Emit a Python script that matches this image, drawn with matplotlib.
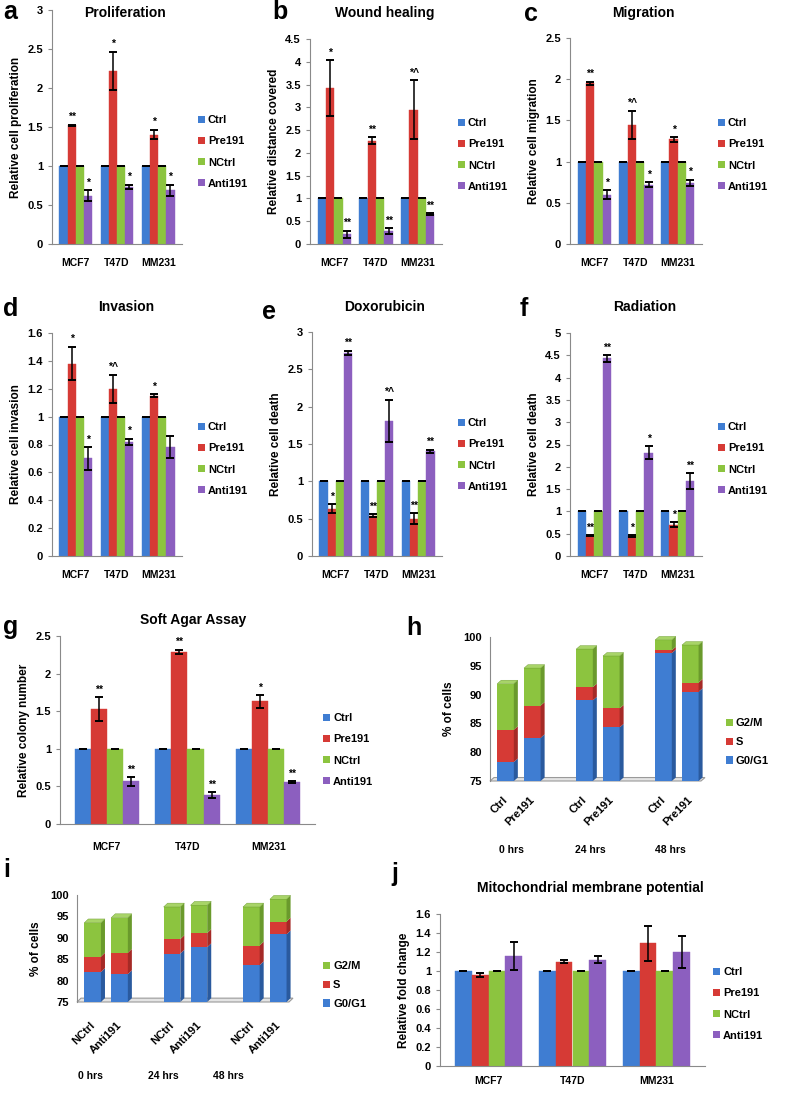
import numpy as np
import matplotlib
matplotlib.use('Agg')
import matplotlib.pyplot as plt
from matplotlib.patches import Patch, Polygon

plt.rcParams['font.family'] = ['Liberation Sans', 'DejaVu Sans']
plt.rcParams['font.weight'] = 'bold'
plt.rcParams['axes.labelweight'] = 'bold'

# ---- data ----
cells = ['MCF7', 'T47D', 'MM231']
groups = ['Ctrl', 'Pre191', 'NCtrl', 'Anti191']
ctrl = [1, 1, 1]
nctrl = [1, 1, 1]

prolif_pre = [1.52, 2.22, 1.40]
prolif_pre_err = [0.01, 0.24, 0.06]
prolif_anti = [0.62, 0.73, 0.69]
prolif_anti_err = [0.07, 0.03, 0.07]
prolif_pre_star = ['**', '*', '*']
prolif_anti_star = ['*', '*', '*']

wound_pre = [3.43, 2.27, 2.95]
wound_pre_err = [0.61, 0.08, 0.65]
wound_anti = [0.21, 0.29, 0.65]
wound_anti_err = [0.08, 0.06, 0.02]
wound_pre_star = ['*', '**', '*^']
wound_anti_star = ['**', '**', '**']

migr_pre = [1.95, 1.45, 1.27]
migr_pre_err = [0.02, 0.17, 0.03]
migr_anti = [0.60, 0.72, 0.74]
migr_anti_err = [0.05, 0.03, 0.04]
migr_pre_star = ['**', '*^', '*']
migr_anti_star = ['*', '*', '*']

inv_pre = [1.38, 1.20, 1.15]
inv_pre_err = [0.12, 0.10, 0.01]
inv_anti = [0.70, 0.82, 0.78]
inv_anti_err = [0.08, 0.02, 0.08]
inv_pre_star = ['*', '*^', '*']
inv_anti_star = ['*', '*', '']

doxo_pre = [0.63, 0.54, 0.50]
doxo_pre_err = [0.06, 0.02, 0.07]
doxo_anti = [2.72, 1.81, 1.40]
doxo_anti_err = [0.03, 0.28, 0.02]
doxo_pre_star = ['*', '**', '**']
doxo_anti_star = ['**', '*^', '**']

rad_pre = [0.45, 0.45, 0.70]
rad_pre_err = [0.01, 0.02, 0.06]
rad_anti = [4.43, 2.32, 1.68]
rad_anti_err = [0.07, 0.14, 0.17]
rad_pre_star = ['**', '*', '*']
rad_anti_star = ['**', '*', '**']

agar_pre = [1.53, 2.29, 1.63]
agar_pre_err = [0.16, 0.03, 0.09]
agar_anti = [0.57, 0.39, 0.56]
agar_anti_err = [0.06, 0.04, 0.01]
agar_pre_star = ['**', '**', '*']
agar_anti_star = ['**', '**', '**']

mito_pre = [0.96, 1.10, 1.29]
mito_pre_err = [0.02, 0.02, 0.18]
mito_anti = [1.16, 1.12, 1.20]
mito_anti_err = [0.15, 0.04, 0.17]

phases = ['G2/M', 'S', 'G0/G1']
h_labels = ['Ctrl', 'Pre191'] * 3
h_g0 = [78.3, 82.5, 89.0, 84.3, 97.2, 90.5]
h_s = [5.6, 5.6, 2.3, 3.3, 0.5, 1.6]
h_g2 = [8.0, 6.5, 6.6, 9.1, 1.8, 6.5]
i_labels = ['NCtrl', 'Anti191'] * 3
i_g0 = [82.0, 81.5, 86.3, 87.8, 83.6, 90.8]
i_s = [3.6, 5.0, 3.4, 3.3, 4.6, 3.0]
i_g2 = [7.9, 8.2, 7.5, 6.5, 9.0, 5.2]
times = ['0 hrs', '24 hrs', '48 hrs']

colors = ['#3f7dd2', '#d63a35', '#8cc43f', '#8c5fbf']
side_cols = ['#2a5a9e', '#a52a26', '#6a9a2c']
zero = [0, 0, 0]

W, H = 785, 1095
fig = plt.figure(figsize=(7.85, 10.95), dpi=100)


def px_axes(l, t, r, b):
    return fig.add_axes([l / W, 1 - b / H, (r - l) / W, (b - t) / H])


def style(ax):
    for s in ['top', 'right']:
        ax.spines[s].set_visible(False)
    for s in ['left', 'bottom']:
        ax.spines[s].set_color('#8a8a8a')
    ax.tick_params(axis='y', colors='black', length=3, labelsize=8)
    ax.tick_params(axis='y', color='#8a8a8a')


def legend(ax, labels, cols, lx, ly, spacing=1.0):
    hs = [Patch(facecolor=c) for c in cols]
    ax.legend(hs, labels, loc='center left', bbox_to_anchor=(lx / W, 1 - ly / H),
              bbox_transform=fig.transFigure, frameon=False, handlelength=0.6,
              handleheight=0.6, handletextpad=0.3, labelspacing=spacing,
              fontsize=8, borderaxespad=0, borderpad=0)


def grouped(ax, pre, pre_err, anti, anti_err, pre_star, anti_star,
            ymax, step, ylabel, lx, ly, pad=10):
    x = np.arange(3)
    w = 0.2
    vals = [ctrl, pre, nctrl, anti]
    errs = [zero, pre_err, zero, anti_err]
    for k in range(4):
        ax.bar(x + (k - 1.5) * w, vals[k], w, color=colors[k],
               edgecolor=colors[k], linewidth=0.3,
               yerr=errs[k], capsize=3,
               error_kw=dict(ecolor='black', elinewidth=1.1, capthick=1.4))
    for k, st in [(1, pre_star), (3, anti_star)]:
        for i in range(3):
            if st[i]:
                top = vals[k][i] + errs[k][i]
                ax.text(x[i] + (k - 1.5) * w, top + ymax * 0.012, st[i],
                        ha='center', va='bottom', fontsize=7.5)
    ax.set_ylim(0, ymax)
    ticks = np.arange(0, ymax + 1e-9, step)
    ax.set_yticks(ticks)
    ax.set_yticklabels(['%g' % t for t in ticks])
    ax.set_xlim(-0.58, 2.58)
    ax.set_xticks(x)
    ax.set_xticklabels(cells, fontsize=7.5)
    ax.tick_params(axis='x', length=0, pad=pad)
    ax.set_ylabel(ylabel, fontsize=8.5, labelpad=4)
    style(ax)
    legend(ax, groups, colors, lx, ly)


def stack3d(ax, g0, s, g2, labels, dx, dy, tx, ty, lx, ly, label_y):
    pos = np.repeat(np.arange(3) * 2.95, 2) + np.tile([0, 1], 3)
    w = 0.62
    xmin, xmax = -0.58, 7.45
    ax.set_xlim(xmin, xmax)
    ax.set_ylim(75, 100)
    floor = Polygon([(xmin, 75), (xmax - dx, 75), (xmax, 75 + dy), (xmin + dx, 75 + dy)],
                    closed=True, facecolor='#e4e4e4', edgecolor='#9a9a9a', lw=0.8,
                    clip_on=False, zorder=1)
    ax.add_patch(floor)
    base = 75.0
    bottom = np.full(6, base)
    # first layer starts at the axis floor, so its visible height is g0 - 75
    layers = [np.array(g0) - base, np.array(s), np.array(g2)]
    for li, vals in enumerate(layers):
        ax.bar(pos, vals, w, bottom=bottom, color=colors[li], zorder=3, clip_on=False)
        for p, b, v in zip(pos, bottom, vals):
            t = b + v
            ax.add_patch(Polygon([(p + w / 2, b), (p + w / 2 + dx, b + dy),
                                  (p + w / 2 + dx, t + dy), (p + w / 2, t)],
                                 closed=True, facecolor=side_cols[li], lw=0,
                                 zorder=3, clip_on=False))
        bottom = bottom + vals
    for p, t in zip(pos, bottom):
        ax.add_patch(Polygon([(p - w / 2, t), (p + w / 2, t), (p + w / 2 + dx, t + dy),
                              (p - w / 2 + dx, t + dy)], closed=True,
                             facecolor='#a8d468', edgecolor='#6a9a2c', lw=0.3,
                             zorder=3, clip_on=False))
    ax.spines['bottom'].set_visible(False)
    ax.spines['top'].set_visible(False)
    ax.spines['right'].set_visible(False)
    ax.spines['left'].set_color('#8a8a8a')
    ax.set_yticks([75, 80, 85, 90, 95, 100])
    ax.tick_params(axis='y', length=0, labelsize=8, pad=6)
    ax.set_xticks(pos - 0.1)
    ax.set_xticklabels(labels, rotation=45, ha='right', rotation_mode='anchor', fontsize=8)
    ax.tick_params(axis='x', length=0, pad=label_y)
    ax.set_ylabel('% of cells', fontsize=8.5, labelpad=6)
    for x_, t_ in zip(tx, times):
        ax.text(x_, ty, t_, transform=ax.transAxes, ha='center', va='center', fontsize=7.5)
    legend(ax, phases, [colors[2], colors[1], colors[0]], lx, ly, spacing=0.8)


# a - f
ax = px_axes(52, 10, 182, 244)
grouped(ax, prolif_pre, prolif_pre_err, prolif_anti, prolif_anti_err,
        prolif_pre_star, prolif_anti_star, 3, 0.5, 'Relative cell proliferation', 198, 152)
ax = px_axes(310, 39, 442, 244)
grouped(ax, wound_pre, wound_pre_err, wound_anti, wound_anti_err,
        wound_pre_star, wound_anti_star, 4.5, 0.5, 'Relative distance covered', 458, 155)
ax = px_axes(570, 38, 702, 244)
grouped(ax, migr_pre, migr_pre_err, migr_anti, migr_anti_err,
        migr_pre_star, migr_anti_star, 2.5, 0.5, 'Relative cell migration', 718, 155)
ax = px_axes(52, 333, 182, 556)
grouped(ax, inv_pre, inv_pre_err, inv_anti, inv_anti_err,
        inv_pre_star, inv_anti_star, 1.6, 0.2, 'Relative cell invasion', 198, 459)
ax = px_axes(312, 332, 442, 556)
grouped(ax, doxo_pre, doxo_pre_err, doxo_anti, doxo_anti_err,
        doxo_pre_star, doxo_anti_star, 3, 0.5, 'Relative cell death', 458, 455)
ax = px_axes(570, 333, 702, 556)
grouped(ax, rad_pre, rad_pre_err, rad_anti, rad_anti_err,
        rad_pre_star, rad_anti_star, 5, 0.5, 'Relative cell death', 718, 459)

# g
ax = px_axes(60, 636, 315, 824)
grouped(ax, agar_pre, agar_pre_err, agar_anti, agar_anti_err,
        agar_pre_star, agar_anti_star, 2.5, 0.5, 'Relative colony number', 323, 750, pad=13)

# h
ax = px_axes(490, 637, 705, 781)
stack3d(ax, h_g0, h_s, h_g2, h_labels, 0.15, 0.6,
        [0.10, 0.465, 0.837], -0.48, 726, 742, 10)

# i
ax = px_axes(77, 895, 293, 1002)
stack3d(ax, i_g0, i_s, i_g2, i_labels, 0.15, 0.9,
        [0.06, 0.398, 0.699], -0.69, 323, 985, 13)

# j
ax = px_axes(440, 914, 705, 1066)
grouped(ax, mito_pre, mito_pre_err, mito_anti, mito_anti_err,
        ['', '', ''], ['', '', ''], 1.6, 0.2, 'Relative fold change', 713, 1004, pad=7)

titles = [('Proliferation', 125, 13), ('Wound healing', 385, 13), ('Migration', 643, 13),
          ('Invasion', 126, 307), ('Doxorubicin', 385, 307), ('Radiation', 645, 307),
          ('Soft Agar Assay', 193, 620), ('Mitochondrial membrane potential', 590, 888)]
for t, cx, cy in titles:
    fig.text(cx / W, 1 - cy / H, t, ha='center', va='center', fontsize=10)

letters = [('a', 3, 0), ('b', 272, 0), ('c', 524, 2), ('d', 3, 297), ('e', 262, 300),
           ('f', 520, 297), ('g', 3, 615), ('h', 406, 616), ('i', 3, 858), ('j', 391, 862)]
for t, x, y in letters:
    fig.text(x / W, 1 - y / H, t, ha='left', va='top', fontsize=18)

fig.savefig('out.png', dpi=100)
